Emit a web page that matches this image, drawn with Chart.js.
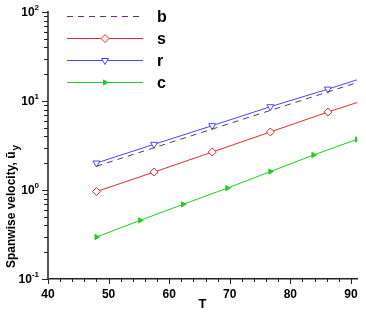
<!DOCTYPE html>
<html>
<head>
<meta charset="utf-8">
<script src="https://cdn.jsdelivr.net/npm/chart.js@4.4.0/dist/chart.umd.min.js"></script>
<style>
  html, body { margin: 0; padding: 0; background: #fff; }
  #wrap { width: 366px; height: 314px; }
</style>
</head>
<body>
<div id="wrap"><canvas id="myChart"></canvas></div>
<script>
// values
var tS = [48, 57.5, 67.1, 76.7, 86.2, 91];
var uS = [0.96, 1.59, 2.67, 4.49, 7.52, 9.6];
var tR = [48, 57.5, 67.1, 76.7, 86.2, 91];
var uR = [2.01, 3.26, 5.28, 8.63, 13.6, 17.3];
var tB = [48, 91];
var uB = [1.85, 16.1];
var tC = [48, 55.2, 62.3, 69.6, 76.7, 83.8, 91];
var uC = [0.296, 0.456, 0.69, 1.05, 1.61, 2.47, 3.71];
var xTicks = [40, 50, 60, 70, 80, 90];
var yDecades = [0.1, 1, 10, 100];
var yExp = ['-1', '0', '1', '2'];

const pts = (xs, ys) => xs.map((x, i) => ({ x: x, y: ys[i] }));
const FONT = '"Liberation Sans", Arial, sans-serif';

// markers on all points but the last one (line runs on to the end)
const markEnd = (n, r) => Array.from({ length: n }, (_, i) => i < n - 1 ? r : 0);

// outward tick marks, 10^n labels, legend and y title drawn by hand
const decor = {
    id: 'decor',
    afterDraw(chart) {
        const ctx = chart.ctx;
        const xs = chart.scales.x, ys = chart.scales.y;
        const area = chart.chartArea;
        ctx.save();
        ctx.strokeStyle = '#222';
        ctx.lineWidth = 1;
        for (let v = 40; v <= 90; v += 2) {
            const px = Math.round(xs.getPixelForValue(v)) + 0.5;
            const len = v % 10 == 0 ? 5 : 3;
            ctx.beginPath();
            ctx.moveTo(px, area.bottom);
            ctx.lineTo(px, area.bottom + len);
            ctx.stroke();
        }
        for (let d = 0.1; d < 99; d *= 10) {
            for (let m = 1; m <= 10; m++) {
                const v = d * m;
                const py = Math.round(ys.getPixelForValue(v)) + 0.5;
                const len = (m == 1 || m == 10) ? 6 : 4;
                ctx.beginPath();
                ctx.moveTo(area.left, py);
                ctx.lineTo(area.left - len, py);
                ctx.stroke();
            }
        }

        // y tick labels: 10 with a raised exponent
        ctx.fillStyle = '#000';
        ctx.textBaseline = 'middle';
        yDecades.forEach(function (v, i) {
            const py = ys.getPixelForValue(v);
            ctx.font = 'bold 8px ' + FONT;
            ctx.textAlign = 'right';
            const ew = ctx.measureText(yExp[i]).width;
            ctx.fillText(yExp[i], 39, py - 4);
            ctx.font = 'bold 12px ' + FONT;
            ctx.fillText('10', 39 - ew, py + 1);
        });

        // legend
        const rows = [16.5, 38.5, 60.5, 82.5];
        chart.data.datasets.forEach(function (ds, i) {
            const y = rows[i];
            ctx.save();
            ctx.strokeStyle = ds.borderColor;
            ctx.lineWidth = ds.borderWidth;
            ctx.setLineDash(ds.borderDash || []);
            ctx.beginPath();
            ctx.moveTo(67, y);
            ctx.lineTo(143, y);
            ctx.stroke();
            ctx.restore();
            if (ds.pointStyle) {
                ctx.save();
                ctx.fillStyle = ds.pointBackgroundColor;
                ctx.strokeStyle = ds.pointBorderColor;
                ctx.lineWidth = 1;
                Chart.helpers.drawPoint(ctx, {
                    pointStyle: ds.pointStyle,
                    rotation: ds.pointRotation || 0,
                    radius: ds.legendRadius,
                    borderWidth: 1
                }, 105, y);
                ctx.restore();
            }
            ctx.fillStyle = '#000';
            ctx.font = 'bold 16px ' + FONT;
            ctx.textBaseline = 'middle';
            ctx.textAlign = 'left';
            ctx.fillText(ds.label, 157, y + 1);
        });

        // y axis title with subscript
        ctx.translate(15, 268);
        ctx.rotate(-Math.PI / 2);
        ctx.fillStyle = '#000';
        ctx.font = 'bold 12px ' + FONT;
        ctx.textBaseline = 'alphabetic';
        ctx.textAlign = 'left';
        const main = 'Spanwise velocity, \u0169';
        ctx.fillText(main, 0, 0);
        const w = ctx.measureText(main).width;
        ctx.font = 'bold 10px ' + FONT;
        ctx.fillText('y', w + 1, 4);
        ctx.restore();
    }
};

const config = {
    type: 'line',
    data: {
        datasets: [{
            label: 'b',
            data: pts(tB, uB),
            borderColor: '#6b2a7a',
            borderWidth: 1,
            borderDash: [6, 5],
            pointRadius: 0
        }, {
            label: 's',
            data: pts(tS, uS),
            borderColor: '#e52a2a',
            borderWidth: 1,
            pointStyle: 'rectRot',
            pointRadius: markEnd(tS.length, 4),
            legendRadius: 4,
            pointBackgroundColor: '#ffffff',
            pointBorderColor: '#e52a2a',
            pointBorderWidth: 1
        }, {
            label: 'r',
            data: pts(tR, uR),
            borderColor: '#4646ff',
            borderWidth: 1,
            pointStyle: 'triangle',
            pointRotation: 180,
            pointRadius: markEnd(tR.length, 4),
            legendRadius: 4,
            pointBackgroundColor: '#ffffff',
            pointBorderColor: '#4646ff',
            pointBorderWidth: 1
        }, {
            label: 'c',
            data: pts(tC, uC),
            borderColor: '#22cc22',
            borderWidth: 1,
            pointStyle: 'triangle',
            pointRotation: 90,
            pointRadius: 3,
            legendRadius: 3,
            pointBackgroundColor: '#22cc22',
            pointBorderColor: '#22cc22',
            pointBorderWidth: 1
        }]
    },
    options: {
        responsive: true, maintainAspectRatio: false,
        animation: false,
        layout: { padding: { top: 12, right: 9, left: 0, bottom: 0 } },
        plugins: {
            legend: { display: false },
            tooltip: { enabled: false }
        },
        scales: {
            x: {
                type: 'linear',
                min: 40, max: 91,
                afterFit: function (s) { s.height = 35; },
                afterBuildTicks: function (s) { s.ticks = xTicks.map(v => ({ value: v })); },
                grid: { display: false, drawTicks: false },
                border: { display: true, color: '#222', width: 1.5 },
                ticks: {
                    color: '#000',
                    padding: 8,
                    font: { family: FONT, size: 12, weight: 'bold' }
                },
                title: {
                    display: true, text: 'T', color: '#000',
                    padding: { top: 0, bottom: 2 },
                    font: { family: FONT, size: 13, weight: 'bold' }
                }
            },
            y: {
                type: 'logarithmic',
                min: 0.1, max: 100,
                afterFit: function (s) { s.width = 48; },
                grid: { display: false, drawTicks: false },
                border: { display: true, color: '#555', width: 2 },
                ticks: {
                    display: false
                }
            }
        }
    },
    plugins: [decor]
};

var myChart = new Chart(document.getElementById('myChart'), config);
</script>
</body>
</html>
